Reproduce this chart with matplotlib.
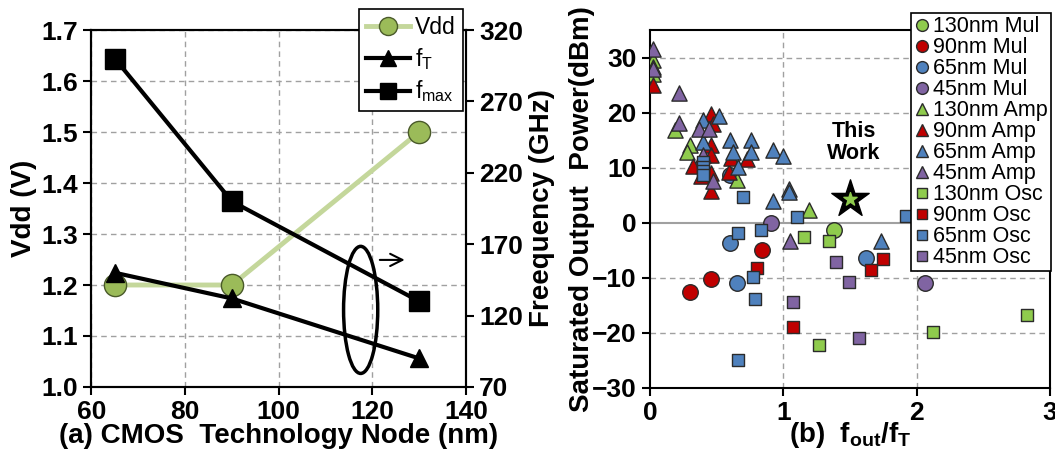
import matplotlib
matplotlib.use("Agg")
import matplotlib.pyplot as plt
from matplotlib.lines import Line2D
from matplotlib.patches import Ellipse

plt.rcParams['font.family'] = 'Liberation Sans'
plt.rcParams['mathtext.fontset'] = 'custom'
plt.rcParams['mathtext.rm'] = 'Liberation Sans:weight=normal'
plt.rcParams['mathtext.bf'] = 'Liberation Sans:bold'

# (a) supply voltage and device speed per technology node
node = [65, 90, 130]
vdd = [1.2, 1.2, 1.5]
f_t = [150, 132, 90]
f_max = [300, 200, 130]

# (b) published circuits: fout/fT vs saturated output power (dBm)
mul130_x = [1.38]
mul130_y = [-1.3]
mul90_x = [0.30, 0.46, 0.84]
mul90_y = [-12.5, -10.3, -5.0]
mul65_x = [0.60, 0.60, 0.655, 1.62]
mul65_y = [8.6, -3.7, -11.0, -6.4]
mul45_x = [0.905, 2.06]
mul45_y = [0.0, -11.0]

amp130_x = [0.02, 0.02, 0.19, 0.30, 0.28, 0.65, 1.19]
amp130_y = [29.5, 27.0, 16.8, 14.1, 12.9, 7.8, 2.4]
amp90_x = [0.02, 0.325, 0.455, 0.47, 0.46, 0.46, 0.385, 0.46, 0.46, 0.59, 0.61, 0.73]
amp90_y = [25.0, 10.3, 19.8, 18.0, 14.1, 12.3, 8.4, 9.0, 5.7, 9.3, 11.7, 11.5]
amp65_x = [0.02, 0.40, 0.52, 0.40, 0.60, 0.62, 0.66, 0.76, 0.76, 0.925, 1.0, 1.04, 1.04, 0.925, 1.73]
amp65_y = [28.3, 18.6, 19.3, 14.7, 15.0, 12.9, 10.2, 15.0, 12.9, 13.2, 12.1, 6.2, 5.5, 3.9, -3.4]
amp45_x = [0.02, 0.02, 0.22, 0.22, 0.37, 0.445, 0.40, 0.47, 1.05]
amp45_y = [31.5, 28.0, 23.5, 18.1, 17.1, 17.1, 12.3, 7.5, -3.4]

osc130_x = [1.155, 1.345, 1.27, 2.125, 2.83]
osc130_y = [-2.6, -3.4, -22.2, -19.8, -16.8]
osc90_x = [0.80, 1.075, 1.75, 1.66]
osc90_y = [-8.2, -18.9, -6.5, -8.6]
osc65_x = [0.40, 0.40, 0.40, 0.40, 0.70, 1.10, 1.92, 0.66, 0.83, 0.77, 0.79, 0.66]
osc65_y = [11.0, 10.2, 9.4, 8.6, 4.6, 1.0, 1.3, -1.9, -1.4, -9.8, -13.8, -24.9]
osc45_x = [1.395, 1.495, 1.075, 1.57]
osc45_y = [-7.2, -10.8, -14.3, -20.9]

this_work = (1.5, 4.3)

green, red, blue, purple = '#8FCB4D', '#C00000', '#4F81BD', '#8064A2'
edge = '#2B2B2B'
grid_gray = '#A0A0A0'


def bold_ticks(ax, size=19):
    ax.tick_params(labelsize=size, direction='out', length=6, width=1.5)
    for lbl in ax.get_xticklabels() + ax.get_yticklabels():
        lbl.set_fontweight('bold')


fig = plt.figure(figsize=(10.55, 4.49), dpi=100)

# ---- (a) ----
ax1 = fig.add_axes([0.0867, 0.1381, 0.355, 0.795])
ax2 = ax1.twinx()

ax1.plot(node, vdd, color='#C4D79B', lw=3.5, marker='o', ms=16,
         mfc='#9BBB59', mec='#4A5A2A', mew=1, zorder=3)
ax2.plot(node, f_t, color='k', lw=3, marker='^', ms=13)
ax2.plot(node, f_max, color='k', lw=3, marker='s', ms=14)

ax2.add_patch(Ellipse((117.5, 124), 7.3, 89, fill=False, lw=2.5, ec='k'))
ax2.annotate('', xy=(127.5, 159), xytext=(121, 159),
             arrowprops=dict(arrowstyle='->', lw=1.5, color='k', mutation_scale=22))

ax1.set_xlim(60, 140)
ax1.set_ylim(1.0, 1.7)
ax2.set_ylim(70, 320)
ax1.set_xticks([60, 80, 100, 120, 140])
ax1.set_yticks([1.0, 1.1, 1.2, 1.3, 1.4, 1.5, 1.6, 1.7])
ax1.set_yticklabels(['1.0', '1.1', '1.2', '1.3', '1.4', '1.5', '1.6', '1.7'])
ax2.set_yticks([70, 120, 170, 220, 270, 320])
ax1.grid(True, ls=(0, (4, 3)), color=grid_gray, lw=1)
for ax in (ax1, ax2):
    for sp in ax.spines.values():
        sp.set_linewidth(1.5)
    bold_ticks(ax)

ax1.set_xlabel('(a) CMOS  Technology Node (nm)', fontsize=20, fontweight='bold', labelpad=-1)
ax1.set_ylabel('Vdd (V)', fontsize=20, fontweight='bold', labelpad=3)
ax2.set_ylabel('Freequency (GHz)', fontsize=20, fontweight='bold', labelpad=4)

h_a = [Line2D([], [], color='#C4D79B', lw=3.5, marker='o', ms=13, mfc='#9BBB59', mec='#4A5A2A'),
       Line2D([], [], color='k', lw=3, marker='^', ms=11),
       Line2D([], [], color='k', lw=3, marker='s', ms=11)]
leg_a = ax2.legend(h_a, ['Vdd', r'f$_\mathrm{T}$', r'f$_\mathrm{max}$'],
                   loc='upper right', bbox_to_anchor=(463 / 1055, 1 - 9 / 449),
                   bbox_transform=fig.transFigure, fontsize=16.5, fancybox=False,
                   edgecolor='k', framealpha=1, handlelength=1.9, handletextpad=0.25,
                   labelspacing=0.3, borderpad=0.3, borderaxespad=0)
leg_a.get_frame().set_linewidth(1.2)

# ---- (b) ----
ax3 = fig.add_axes([0.6161, 0.1359, 0.3791, 0.7973])
ax3.axhline(0, color=grid_gray, lw=1.5, zorder=0)
for yv in (-20, -10, 10, 20, 30):
    ax3.axhline(yv, color=grid_gray, lw=1, ls=(0, (4, 3)), zorder=0)
for xv in (1, 2):
    ax3.axvline(xv, color=grid_gray, lw=1, ls=(0, (4, 3)), zorder=0)

series = [
    (mul130_x, mul130_y, 'o', green, '130nm Mul'),
    (mul90_x, mul90_y, 'o', red, '90nm Mul'),
    (mul65_x, mul65_y, 'o', blue, '65nm Mul'),
    (mul45_x, mul45_y, 'o', purple, '45nm Mul'),
    (amp130_x, amp130_y, '^', green, '130nm Amp'),
    (amp90_x, amp90_y, '^', red, '90nm Amp'),
    (amp65_x, amp65_y, '^', blue, '65nm Amp'),
    (amp45_x, amp45_y, '^', purple, '45nm Amp'),
    (osc130_x, osc130_y, 's', green, '130nm Osc'),
    (osc90_x, osc90_y, 's', red, '90nm Osc'),
    (osc65_x, osc65_y, 's', blue, '65nm Osc'),
    (osc45_x, osc45_y, 's', purple, '45nm Osc'),
]
sizes = {'o': 125, '^': 120, 's': 72}
leg_ms = {'o': 8.5, '^': 8.5, 's': 7.5}
h_b, l_b = [], []
for xs, ys, m, c, name in series:
    ax3.scatter(xs, ys, marker=m, s=sizes[m], c=c, edgecolors=edge, linewidths=1, zorder=3)
    h_b.append(Line2D([], [], ls='none', marker=m, ms=leg_ms[m], mfc=c, mec=edge, mew=1))
    l_b.append(name)

ax3.scatter([this_work[0]], [this_work[1]], marker='*', s=800, c='k', zorder=4)
ax3.scatter([this_work[0]], [this_work[1]], marker='*', s=100, c=green, zorder=5)
ax3.text(1.53, 14.6, 'This\nWork', fontsize=15.5, fontweight='bold', ha='center',
         va='center', linespacing=1.1)

ax3.set_xlim(0, 3)
ax3.set_ylim(-30, 35)
ax3.set_xticks([0, 1, 2, 3])
ax3.set_yticks([-30, -20, -10, 0, 10, 20, 30])
for sp in ax3.spines.values():
    sp.set_linewidth(1.5)
bold_ticks(ax3)
ax3.set_xlabel(r'(b)  f$_\mathbf{out}$/f$_\mathbf{T}$', fontsize=20, fontweight='bold', labelpad=-4)
ax3.set_ylabel('Saturated Output  Power(dBm)', fontsize=20, fontweight='bold', labelpad=-2)

leg_b = ax3.legend(h_b, l_b, loc='upper right', bbox_to_anchor=(1051 / 1055, 1 - 13 / 449),
                   bbox_transform=fig.transFigure, fontsize=15.5, fancybox=False,
                   edgecolor='k', framealpha=1, handlelength=0.7, handletextpad=0.15,
                   labelspacing=0.0, borderpad=0.15, borderaxespad=0)
leg_b.get_frame().set_linewidth(1.2)
leg_b.set_zorder(10)

fig.savefig('out.png', dpi=100)
